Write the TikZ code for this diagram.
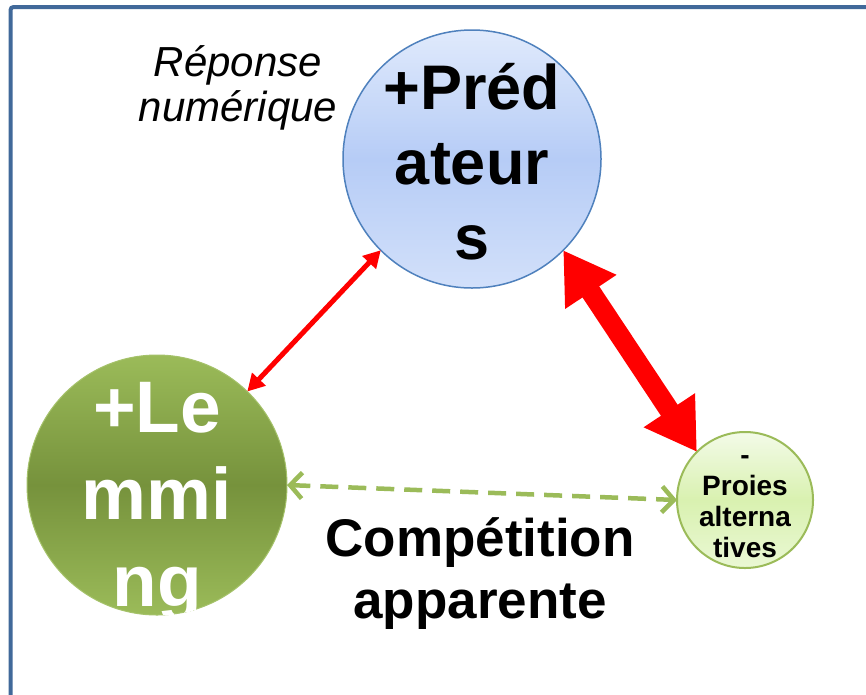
\documentclass[tikz,border=0pt]{standalone}
\usepackage{fontspec}
\setmainfont{Liberation Sans}
\usetikzlibrary{arrows.meta}
\definecolor{framec}{HTML}{41699A}
\definecolor{predline}{HTML}{4F81BD}
\definecolor{predtop}{HTML}{E0EAFC}
\definecolor{predmid}{HTML}{B6CCF6}
\definecolor{predbot}{HTML}{D2E0FA}
\definecolor{lemtop}{HTML}{9BBB59}
\definecolor{lemmid}{HTML}{76923C}
\definecolor{proline}{HTML}{9BBB59}
\definecolor{protop}{HTML}{F3FBE8}
\definecolor{promid}{HTML}{D9F1B0}
\definecolor{probot}{HTML}{EAF8D4}
\definecolor{dashc}{HTML}{9BBB59}
\tikzset{
  bubble/.style={circle, inner sep=0pt, outer sep=0pt},
  redthin/.style={draw=red, line width=5pt, {Triangle[length=17pt,width=18pt]}-{Triangle[length=17pt,width=18pt]}},
  redthick/.style={draw=red, line width=20pt, {Triangle[length=50pt,width=58pt]}-{Triangle[length=50pt,width=58pt]}},
  greendash/.style={draw=dashc, line width=4.5pt, dash pattern=on 18pt off 10pt, {Straight Barb[length=12pt,width=26pt]}-{Straight Barb[length=12pt,width=26pt]}},
  lbl/.style={align=center, inner sep=0pt}
}
\begin{document}
\begin{tikzpicture}[x=1pt,y=-1pt]
\useasboundingbox (0,0) rectangle (866,694);
\fill[white] (0,0) rectangle (866,694);
\draw[framec, line width=4pt, rounded corners=3pt] (10.5,700) -- (10.5,7) -- (870,7);

\node[bubble, minimum size=258pt, draw=predline, line width=1.5pt,
  top color=predtop, bottom color=predbot, middle color=predmid] (pred) at (472,159) {};
\node[lbl, font={\fontsize{63}{75}\selectfont\bfseries}] (predt) at (472,162) {+Préd\\ateur\\s};

\node[bubble, minimum size=260pt, draw=lemtop!90!white, line width=1pt,
  top color=lemtop, bottom color=lemtop, middle color=lemmid] (lem) at (157,485) {};
\begin{scope}
\clip (157,485) circle (130pt);
\node[lbl, text=white, font={\fontsize{73}{87}\selectfont\bfseries}] (lemt) at (157,502) {+Le\\mmi\\ng};
\end{scope}

\node[bubble, minimum size=136pt, draw=proline, line width=2pt,
  top color=protop, bottom color=probot, middle color=promid] (pro) at (745,500) {};
\node[lbl, font={\fontsize{28}{31}\selectfont\bfseries}] (prot) at (745,507) {-\\Proies\\alterna\\tives};

\node[lbl, font={\fontsize{42}{45}\selectfont\itshape}] (rep) at (238,88) {Réponse\\numérique};
\node[lbl, font={\fontsize{53}{62}\selectfont\bfseries}] (comp) at (480,574) {Compétition\\apparente};

\draw[redthin] (pred.225.3) -- (lem.46);
\draw[redthick] (pred.-45.6) -- (pro.135.6);
\draw[greendash] (lem.0) -- (pro.180);
\end{tikzpicture}
\end{document}
